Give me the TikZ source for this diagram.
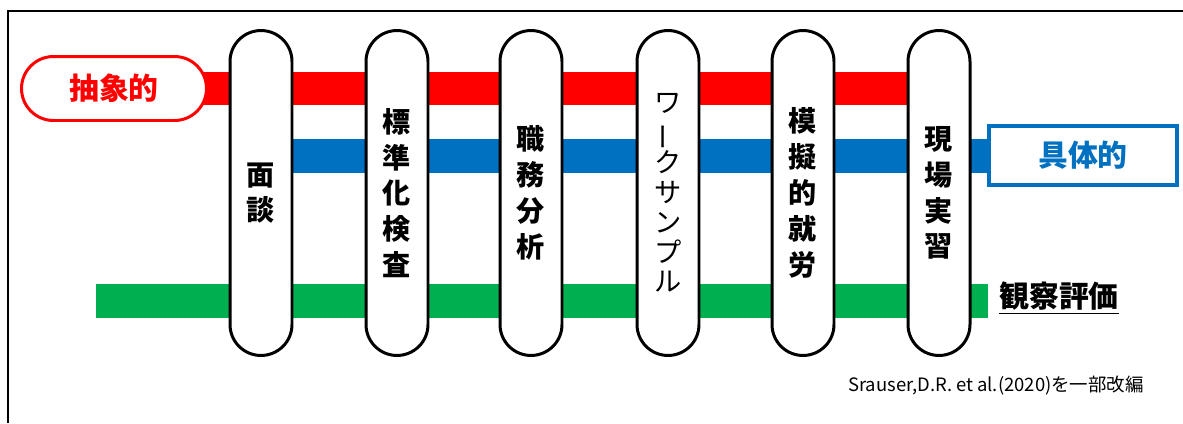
\documentclass[tikz,border=0pt]{standalone}
\usepackage{fontspec}
\setmainfont{Noto Sans CJK JP}
\usetikzlibrary{backgrounds}
\definecolor{rred}{HTML}{FF0000}
\definecolor{rblue}{HTML}{0070C0}
\definecolor{rgreen}{HTML}{00B050}

\begin{document}
\begin{tikzpicture}[x=0.02cm, y=-0.02cm,
		pill/.style={draw, line width=1.7pt, fill=white, rounded corners=0.62cm,
			minimum width=1.24cm, minimum height=6.5cm, inner sep=0pt, align=center,
			font=\bfseries\fontsize{16}{20.4}\selectfont},
		bar/.style={line width=0.68cm}]
		\useasboundingbox (0,0) rectangle (1183,423);
		\draw[line width=0.9pt] (1183,11) -- (8,11) -- (8,423);
		\node[pill] (p1) at (261,193) {面\\談};
		\node[pill] (p2) at (397,193) {標\\準\\化\\検\\査};
		\node[pill] (p3) at (531,193) {職\\務\\分\\析};
		\node[pill, font=\fontsize{15.5}{17}\selectfont] (p4) at (668,193)
		{ワ\\\rotatebox[origin=c]{90}{ー}\\ク\\サ\\ン\\プ\\ル};
		\node[pill] (p5) at (803,193) {模\\擬\\的\\就\\労};
		\node[pill] (p6) at (939,193) {現\\場\\実\\習};
		\node[draw=rred, fill=white, line width=1.7pt, rounded corners=0.64cm,
		minimum width=3.7cm, minimum height=1.28cm, text=rred,
		font=\bfseries\fontsize{17}{20}\selectfont] (abst) at (114,88.5) {抽象的};
		\node[draw=rblue, fill=white, line width=2.3pt, minimum width=3.76cm,
		minimum height=1.18cm, text=rblue,
		font=\bfseries\fontsize{17}{20}\selectfont] (conc) at (1083,155.5) {具体的};
		\coordinate (g0) at (96,300.5);
		\coordinate (g1) at (988,300.5);
		\node[anchor=west, inner sep=0pt, font=\bfseries\fontsize{17}{20}\selectfont]
		(obs) at (999,298) {\underline{観察評価}};
		\node[font=\fontsize{10.5}{12}\selectfont] (src) at (996,386)
		{Srauser,D.R. et al.(2020)を一部改編};
		\begin{scope}[on background layer]
			\draw[bar, rred] (abst.center) -- (abst.center -| p6.center);
			\draw[bar, rblue] (p1.center |- conc.center) -- (conc.center);
			\draw[bar, rgreen] (g0) -- (g1);
		\end{scope}
\end{tikzpicture}
\end{document}
